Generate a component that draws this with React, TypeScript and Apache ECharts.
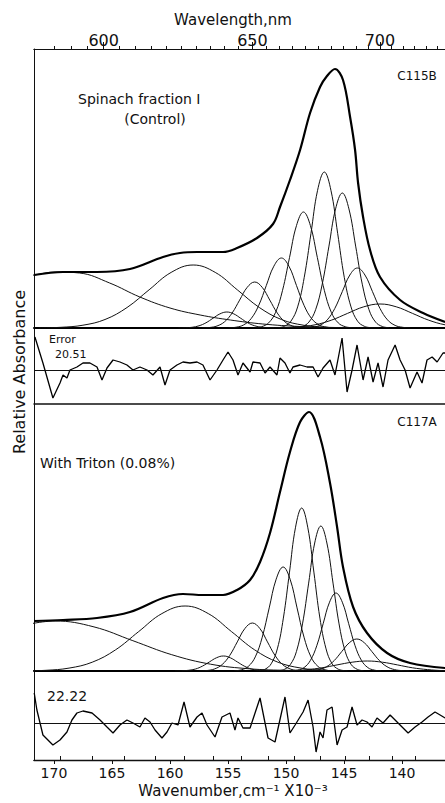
import { useEffect, useRef } from "react";
import * as echarts from "echarts";

// ---- axes ----
const X_MIN = 136.3;
const X_MAX = 171.72;
const wavenumberTicks = [140, 145, 150, 155, 160, 165, 170];
const wavelengthLabels = [600, 650, 700];
const wavelengthMinorTicks = [585, 590, 595, 600, 605, 610, 615, 620, 625, 630, 635, 640, 645, 650, 655, 660, 665, 670, 675, 680, 685, 690, 695, 700, 705, 710, 715, 720, 725];
const wavelengthInnerTicks = [590, 600, 610, 620, 630, 640, 650, 660, 670, 680, 690, 700, 710, 720];
const TOP_SCALE_SHIFT = 0.95; // printed wavelength scale sits slightly off 1e7/λ

// ---- C115B : Spinach fraction I (control) ----
const topTotal = [[136.29, 6], [138.19, 15], [140.17, 28], [141.9, 51], [142.76, 78], [143.36, 111], [143.79, 145], [144.05, 178], [144.48, 211], [145.09, 248], [145.78, 259], [146.47, 252], [147.07, 241], [147.93, 215], [148.79, 178], [149.66, 148], [150.52, 121], [151.12, 104], [152.5, 90], [154.22, 80], [155.43, 76], [157.67, 76], [159.14, 75], [160.6, 71], [163.45, 59], [166.29, 56], [169.22, 56], [171.72, 53]];
const topBand1 = [[142.0, 0], [145.3, 0.4], [148.8, 1.5], [152.0, 4], [154.8, 8], [157.4, 13], [160.0, 20], [162.6, 31], [165.2, 45], [167.8, 55], [169.9, 56], [171.7, 53], [172.5, 52]];
const topBand2 = [[144.7, 0.1], [146.6, 0.7], [148.5, 2.8], [150.4, 8.5], [152.3, 20.5], [154.2, 38.2], [156.1, 55.6], [158.0, 63], [159.9, 55.6], [161.8, 38.2], [163.7, 20.5], [165.6, 8.5], [167.5, 2.8], [169.4, 0.7], [171.3, 0.1]];
const topBand3 = [[150.9, 0], [151.5, 0.2], [152.1, 0.7], [152.7, 2.2], [153.3, 5.2], [153.9, 9.7], [154.5, 14.1], [155.1, 16], [155.7, 14.1], [156.3, 9.7], [156.9, 5.2], [157.5, 2.2], [158.1, 0.7], [158.7, 0.2], [159.3, 0]];
const topBand4 = [[148.15, 0.1], [148.8, 0.5], [149.45, 2], [150.1, 6.2], [150.75, 14.9], [151.4, 27.9], [152.05, 40.6], [152.7, 46], [153.35, 40.6], [154.0, 27.9], [154.65, 14.9], [155.3, 6.2], [155.95, 2], [156.6, 0.5], [157.25, 0.1]];
const topBand5 = [[145.85, 0.2], [146.5, 0.8], [147.15, 3.1], [147.8, 9.5], [148.45, 22.7], [149.1, 42.5], [149.75, 61.8], [150.4, 70], [151.05, 61.8], [151.7, 42.5], [152.35, 22.7], [153.0, 9.5], [153.65, 3.1], [154.3, 0.8], [154.95, 0.2]];
const topBand6 = [[144.3, 0.3], [144.9, 1.3], [145.5, 5.1], [146.1, 15.7], [146.7, 37.7], [147.3, 70.4], [147.9, 102.4], [148.5, 116], [149.1, 102.4], [149.7, 70.4], [150.3, 37.7], [150.9, 15.7], [151.5, 5.1], [152.1, 1.3], [152.7, 0.3]];
const topBand7 = [[142.68, 0.3], [143.25, 1.7], [143.83, 6.8], [144.4, 21.1], [144.98, 50.7], [145.55, 94.6], [146.13, 137.7], [146.7, 156], [147.28, 137.7], [147.85, 94.6], [148.43, 50.7], [149.0, 21.1], [149.58, 6.8], [150.15, 1.7], [150.73, 0.3]];
const topBand8 = [[141.13, 0.3], [141.7, 1.5], [142.28, 5.9], [142.85, 18.3], [143.43, 43.8], [144.0, 81.9], [144.58, 119.1], [145.15, 135], [145.73, 119.1], [146.3, 81.9], [146.88, 43.8], [147.45, 18.3], [148.03, 5.9], [148.6, 1.5], [149.18, 0.3]];
const topBand9 = [[139.3, 0.1], [139.95, 0.7], [140.6, 2.6], [141.25, 8.1], [141.9, 19.5], [142.55, 36.4], [143.2, 53], [143.85, 60], [144.5, 53], [145.15, 36.4], [145.8, 19.5], [146.45, 8.1], [147.1, 2.6], [147.75, 0.7], [148.4, 0.1]];
const topBand10 = [[132.1, 0], [133.5, 0.3], [134.9, 1.1], [136.3, 3.2], [137.7, 7.8], [139.1, 14.6], [140.5, 21.2], [141.9, 24], [143.3, 21.2], [144.7, 14.6], [146.1, 7.8], [147.5, 3.2], [148.9, 1.1], [150.3, 0.3], [151.7, 0]];
const topError = [[171.64, 33], [170.95, 7], [170.09, -28], [169.48, -13], [169.22, -5], [168.88, -8], [168.62, 0], [168.02, 3], [167.5, 7], [166.9, 7], [166.29, 3], [165.86, -10], [165.43, 2], [164.91, 10], [164.31, 8], [163.71, 5], [163.19, 0], [162.59, 3], [161.98, 0], [161.47, -5], [160.86, 3], [160.43, -15], [160.0, 0], [159.4, 5], [158.88, 8], [158.28, 7], [157.67, 8], [157.16, 5], [156.55, -10], [155.95, 0], [155.43, 10], [155.0, 18], [154.57, 10], [154.14, -5], [153.71, 7], [153.1, -2], [152.85, 8], [152.24, 7], [151.81, -3], [151.38, 3], [150.78, -5], [150.52, 12], [150.09, 7], [149.66, -3], [149.4, 3], [148.79, 5], [148.19, 3], [147.67, 3], [147.24, -7], [146.81, 2], [146.21, 10], [145.78, -5], [145.17, 32], [144.74, -22], [144.31, 0], [143.88, 25], [143.36, -10], [142.93, 13], [142.5, -12], [142.07, 7], [141.64, -17], [141.21, 10], [140.6, 25], [140.17, 10], [139.74, 0], [139.31, -18], [138.71, -2], [138.28, -13], [137.85, 10], [137.41, 13], [136.98, 8], [136.47, 17], [136.29, 17]];

// ---- C117A : with Triton (0.08%) ----
const bottomTotal = [[136.29, 3], [139.31, 8], [141.29, 18], [143.02, 38], [144.22, 64], [145.09, 104], [145.6, 144], [146.21, 188], [147.07, 234], [148.02, 259], [148.79, 249], [149.66, 219], [150.52, 179], [151.38, 138], [152.24, 109], [153.1, 91], [154.22, 81], [155.43, 76], [157.16, 76], [158.88, 77], [160.6, 73], [163.45, 59], [166.29, 53], [169.22, 51], [171.72, 50]];
const bottomBand1 = [[146.45, 0.1], [149.8, 0.6], [153.15, 2.2], [156.5, 6.8], [159.85, 16.3], [163.2, 30.3], [166.55, 44.1], [169.9, 50], [173.25, 44.1]];
const bottomBand2 = [[144.7, 0.1], [146.7, 0.7], [148.7, 2.9], [150.7, 8.8], [152.7, 21.1], [154.7, 39.4], [156.7, 57.4], [158.7, 65], [160.7, 57.4], [162.7, 39.4], [164.7, 21.1], [166.7, 8.8], [168.7, 2.9], [170.7, 0.7], [172.7, 0.1]];
const bottomBand3 = [[151.2, 0], [151.8, 0.2], [152.4, 0.7], [153.0, 2], [153.6, 4.9], [154.2, 9.1], [154.8, 13.2], [155.4, 15], [156.0, 13.2], [156.6, 9.1], [157.2, 4.9], [157.8, 2], [158.4, 0.7], [159.0, 0.2], [159.6, 0]];
const bottomBand4 = [[148.35, 0.1], [149.0, 0.5], [149.65, 2.1], [150.3, 6.5], [150.95, 15.6], [151.6, 29.1], [152.25, 42.4], [152.9, 48], [153.55, 42.4], [154.2, 29.1], [154.85, 15.6], [155.5, 6.5], [156.15, 2.1], [156.8, 0.5], [157.45, 0.1]];
const bottomBand5 = [[146.05, 0.2], [146.65, 1.2], [147.25, 4.6], [147.85, 14.1], [148.45, 33.8], [149.05, 63.1], [149.65, 91.8], [150.25, 104], [150.85, 91.8], [151.45, 63.1], [152.05, 33.8], [152.65, 14.1], [153.25, 4.6], [153.85, 1.2], [154.45, 0.2]];
const bottomBand6 = [[144.98, 0.4], [145.5, 1.8], [146.03, 7.2], [146.55, 22.1], [147.08, 52.9], [147.6, 98.9], [148.13, 143.8], [148.65, 163], [149.18, 143.8], [149.7, 98.9], [150.23, 52.9], [150.75, 22.1], [151.28, 7.2], [151.8, 1.8], [152.33, 0.4]];
const bottomBand7 = [[143.33, 0.3], [143.85, 1.6], [144.38, 6.4], [144.9, 19.6], [145.43, 47.1], [145.95, 87.9], [146.48, 128], [147.0, 145], [147.53, 128], [148.05, 87.9], [148.58, 47.1], [149.1, 19.6], [149.63, 6.4], [150.15, 1.6], [150.68, 0.3]];
const bottomBand8 = [[141.85, 0.2], [142.4, 0.9], [142.95, 3.4], [143.5, 10.6], [144.05, 25.3], [144.6, 47.3], [145.15, 68.8], [145.7, 78], [146.25, 68.8], [146.8, 47.3], [147.35, 25.3], [147.9, 10.6], [148.45, 3.4], [149.0, 0.9], [149.55, 0.2]];
const bottomBand9 = [[139.35, 0.1], [140.0, 0.4], [140.65, 1.4], [141.3, 4.3], [141.95, 10.4], [142.6, 19.4], [143.25, 28.2], [143.9, 32], [144.55, 28.2], [145.2, 19.4], [145.85, 10.4], [146.5, 4.3], [147.15, 1.4], [147.8, 0.4], [148.45, 0.1]];
const bottomBand10 = [[133.9, 0], [135.2, 0.1], [136.5, 0.4], [137.8, 1.4], [139.1, 3.2], [140.4, 6.1], [141.7, 8.8], [143.0, 10], [144.3, 8.8], [145.6, 6.1], [146.9, 3.2], [148.2, 1.4], [149.5, 0.4], [150.8, 0.1], [152.1, 0]];
const bottomError = [[171.7, 30], [171.47, 13], [170.95, -12], [170.09, -22], [169.48, -17], [168.88, -9], [168.45, 3], [168.02, 10], [167.5, 12], [166.72, 10], [166.03, 3], [165.43, -4], [164.91, -10], [164.31, -2], [163.71, 3], [163.19, 0], [162.59, -4], [162.16, 5], [161.72, 1], [161.29, -7], [160.69, -15], [160.26, -9], [159.83, 0], [159.31, -2], [158.79, 21], [158.28, -4], [157.67, 6], [157.24, 10], [156.81, -2], [156.12, -14], [155.52, 6], [154.83, 10], [154.4, -7], [154.14, 5], [153.71, -5], [153.1, -5], [152.24, 25], [151.55, -15], [150.95, -19], [150.09, 26], [149.66, -10], [149.22, -2], [148.53, 11], [148.1, 23], [147.67, -4], [147.41, -29], [147.07, -9], [146.81, -15], [146.47, 13], [146.03, 16], [145.6, -22], [145.17, -7], [144.74, -4], [144.31, 16], [143.88, -2], [143.45, 3], [143.02, 1], [142.59, -4], [142.16, 5], [141.64, 0], [141.03, 8], [140.43, 1], [140.0, -4], [139.48, -10], [138.88, -4], [138.28, 1], [137.76, 6], [137.16, 11], [136.72, 8], [136.29, 5]];

const topBands = [topBand1, topBand2, topBand3, topBand4, topBand5, topBand6, topBand7, topBand8, topBand9, topBand10];
const bottomBands = [bottomBand1, bottomBand2, bottomBand3, bottomBand4, bottomBand5, bottomBand6, bottomBand7, bottomBand8, bottomBand9, bottomBand10];

const FONT = '"DejaVu Sans", "Noto Sans", sans-serif';
const INK = "#111";

const topPos = (nm: number) => 1e5 / nm - TOP_SCALE_SHIFT;

function baseX(gridIndex: number, position: string, extra: any = {}) {
  return {
    type: "value",
    gridIndex,
    position,
    min: X_MIN,
    max: X_MAX,
    inverse: true,
    axisLine: { show: true, onZero: false, lineStyle: { color: INK, width: 1 } },
    axisTick: { show: false },
    axisLabel: { show: false },
    splitLine: { show: false },
    ...extra,
  };
}

function baseY(gridIndex: number, min: number, max: number) {
  return {
    type: "value",
    gridIndex,
    min,
    max,
    axisLine: { show: true, onZero: false, lineStyle: { color: INK, width: 1 } },
    axisTick: { show: false },
    axisLabel: { show: false },
    splitLine: { show: false },
  };
}

function text(t: string, x: number, y: number, size: number, align = "left", extra: any = {}) {
  return {
    type: "text",
    x,
    y,
    ...extra,
    style: {
      text: t,
      x: 0,
      y: 0,
      font: `${size}px ${FONT}`,
      fill: INK,
      textAlign: align,
      textVerticalAlign: "middle",
    },
  };
}

export default function App() {
  const ref = useRef<HTMLDivElement>(null);
  useEffect(() => {
    if (!ref.current) return;
    const chart = echarts.init(ref.current, null, { renderer: "svg" });

    const bandSeries = (data: number[][], xi: number, yi: number) => ({
      type: "line",
      xAxisIndex: xi,
      yAxisIndex: yi,
      data,
      smooth: 0.4,
      showSymbol: false,
      silent: true,
      lineStyle: { color: INK, width: 1 },
    });
    const totalSeries = (data: number[][], xi: number, yi: number) => ({
      type: "line",
      xAxisIndex: xi,
      yAxisIndex: yi,
      data,
      smooth: 0.35,
      showSymbol: false,
      silent: true,
      lineStyle: { color: "#000", width: 2.2 },
    });
    const errorSeries = (data: number[][], xi: number, yi: number) => ({
      type: "line",
      xAxisIndex: xi,
      yAxisIndex: yi,
      data,
      showSymbol: false,
      silent: true,
      lineStyle: { color: "#000", width: 1.3 },
      markLine: {
        silent: true,
        symbol: "none",
        label: { show: false },
        lineStyle: { color: INK, width: 1, type: "solid" },
        data: [{ yAxis: 0 }],
      },
    });

    chart.setOption({
      animation: false,
      backgroundColor: "#fff",
      grid: [
        { left: 34, right: 0, top: 49, height: 279 },
        { left: 34, right: 0, top: 328, height: 76 },
        { left: 34, right: 0, top: 404, height: 267 },
        { left: 34, right: 0, top: 671, height: 89 },
      ],
      xAxis: [
        baseX(0, "top", {
          axisTick: { show: true, inside: false, length: 3, customValues: wavelengthMinorTicks.map(topPos), lineStyle: { color: INK } },
        }),
        baseX(0, "top", {
          axisTick: { show: true, inside: false, length: 7, customValues: wavelengthLabels.map(topPos), lineStyle: { color: INK } },
          axisLabel: {
            show: true,
            margin: 1,
            customValues: wavelengthLabels.map(topPos),
            fontSize: 16,
            fontFamily: FONT,
            color: INK,
            formatter: (v: number) => {
              const nm = wavelengthLabels.find((n) => Math.abs(topPos(n) - v) < 0.05);
              return nm ? String(nm) : "";
            },
          },
        }),
        baseX(1, "top", { axisLine: { show: true, onZero: false, lineStyle: { color: "#000", width: 2 } } }),
        baseX(1, "bottom", { axisLine: { show: true, onZero: false, lineStyle: { color: INK, width: 1.5 } } }),
        baseX(2, "bottom", { axisLine: { show: true, onZero: false, lineStyle: { color: "#000", width: 2 } } }),
        baseX(3, "bottom", {
          axisLine: { show: true, onZero: false, lineStyle: { color: INK, width: 1.3 } },
          axisTick: { show: true, inside: false, length: 4, customValues: wavenumberTicks, lineStyle: { color: INK } },
          axisLabel: {
            show: true,
            margin: 6,
            customValues: wavenumberTicks,
            fontSize: 14,
            fontFamily: FONT,
            color: INK,
            formatter: (v: number) => String(Math.round(v)),
          },
        }),
        baseX(3, "bottom", {
          axisTick: { show: true, inside: true, length: 4, customValues: wavelengthInnerTicks.map((n) => 1e5 / n), lineStyle: { color: INK } },
        }),
      ],
      yAxis: [baseY(0, 0, 279), baseY(1, -34, 42), baseY(2, 0, 267), baseY(3, -37, 52)],
      series: [
        ...topBands.map((b) => bandSeries(b, 0, 0)),
        totalSeries(topTotal, 0, 0),
        errorSeries(topError, 3, 1),
        ...bottomBands.map((b) => bandSeries(b, 4, 2)),
        totalSeries(bottomTotal, 4, 2),
        errorSeries(bottomError, 5, 3),
      ],
      graphic: [
        text("Wavelength,nm", 233, 20, 15, "center"),
        text("Wavenumber,cm\u207B\u00B9 X10\u207B\u00B3", 233, 791, 15, "center"),
        text("Relative Absorbance", 19, 372, 16, "center", { rotation: Math.PI / 2 }),
        text("Spinach fraction I", 78, 99, 14),
        text("(Control)", 155, 119, 14, "center"),
        text("C115B", 417, 76, 12, "center"),
        text("Error", 49, 339, 11),
        text("20.51", 55, 354, 11),
        text("With Triton (0.08%)", 40, 463, 14),
        text("C117A", 417, 422, 12, "center"),
        text("22.22", 47, 696, 14),
      ],
    });
    return () => chart.dispose();
  }, []);
  return <div ref={ref} style={{ position: "fixed", left: 0, top: 0, width: 445, height: 803, background: "#fff" }} />;
}
